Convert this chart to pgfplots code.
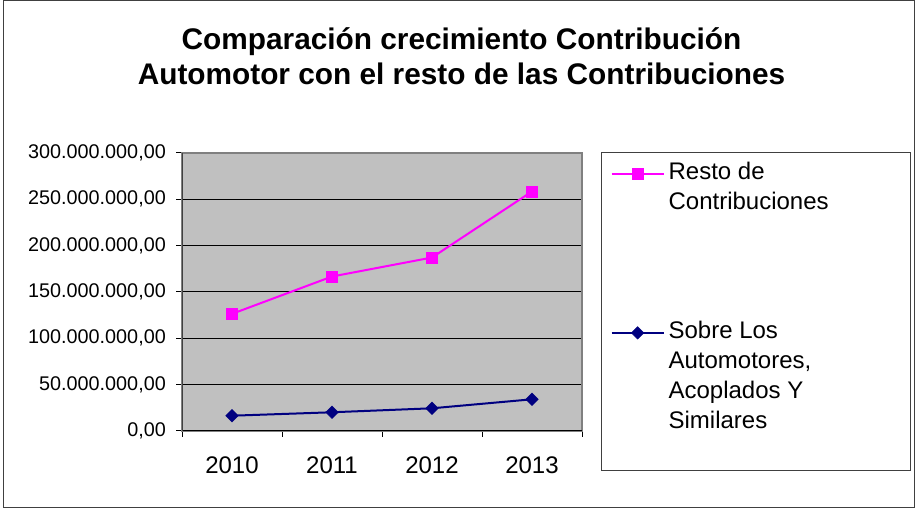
\documentclass[border=0pt]{standalone}
\usepackage{fontspec}
\setmainfont{Liberation Sans}
\usepackage{pgfplots}
\pgfplotsset{compat=1.18}
\definecolor{Plum}{HTML}{FF00FF}
\definecolor{Navy}{HTML}{000080}
\definecolor{PlotBg}{HTML}{C0C0C0}
\definecolor{Frame}{HTML}{808080}
\definecolor{Edge}{HTML}{404040}

\begin{document}
\begin{tikzpicture}[x=1bp,y=1bp]
\useasboundingbox (0,0) rectangle (915,508);
\draw[color=Edge, line width=1.2bp] (3.5,0.6) rectangle (914.4,507.4);
\node[font=\fontsize{29.8bp}{35bp}\selectfont\bfseries, anchor=base, inner sep=0pt]
  at (461.5,458) {Comparación crecimiento Contribución};
\node[font=\fontsize{29.8bp}{35bp}\selectfont\bfseries, anchor=base, inner sep=0pt]
  at (461.5,423) {Automotor con el resto de las Contribuciones};
\begin{axis}[
  at={(182bp,77bp)}, anchor=south west,
  scale only axis, width=400bp, height=278bp,
  axis background/.style={fill=PlotBg},
  xmin=-0.5, xmax=3.5, ymin=0, ymax=300,
  xtick={0,1,2,3}, xticklabels={2010,2011,2012,2013},
  minor xtick={-0.5,0.5,1.5,2.5,3.5},
  ytick={0,50,100,150,200,250,300},
  yticklabels={{0,00},{50.000.000,00},{100.000.000,00},{150.000.000,00},
    {200.000.000,00},{250.000.000,00},{300.000.000,00}},
  tick pos=left, tick align=outside,
  major tick length=6bp, minor tick length=6bp,
  major x tick style={draw=none},
  minor x tick style={black, line width=1bp},
  ytick style={black, line width=1bp},
  ymajorgrids, grid style={black, line width=1bp},
  axis line style={Frame, line width=1.5bp},
  yticklabel style={font=\fontsize{19.8bp}{22bp}\selectfont, inner sep=0pt, xshift=-10bp},
  xticklabel style={font=\fontsize{24bp}{28bp}\selectfont, inner sep=0pt, yshift=-20bp},
  legend style={at={(axis description cs:1,1)}, anchor=north west,
    xshift=19bp, yshift=1bp, draw=Edge, line width=1.2bp, fill=white,
    inner xsep=9bp, inner ysep=9.5bp,
    font=\fontsize{24bp}{30bp}\selectfont,
    row sep=19bp, column sep=4bp,
    cells={anchor=base west}, nodes={inner sep=0pt}},
  legend image code/.code={%
    \path[draw=none, fill=none] (0bp,0bp) -- (0bp,-128bp);
    \draw[mark repeat=2,mark phase=2,#1]
    plot coordinates {(0bp,0bp) (26bp,0bp) (52bp,0bp)};},
  legend image post style={yshift=5.5bp},
]
\addplot[color=Plum, line width=2bp, mark=square*, mark size=5.5bp,
  mark options={line width=0.5bp}]
  coordinates {(0,126.4) (1,166.7) (2,187.2) (3,258.5)};
\addlegendentry{\parbox[t]{233bp}{Resto de\\Contribuciones}}
\addplot[color=Navy, line width=2bp, mark=square*, mark size=4.4bp,
  mark options={rotate=45, line width=0.5bp}]
  coordinates {(0,16.5) (1,20.2) (2,24.5) (3,34.2)};
\addlegendentry{\parbox[t]{233bp}{Sobre Los\\Automotores,\\Acoplados Y\\Similares}}
\draw[black, line width=1.2bp] (rel axis cs:0,0) -- (rel axis cs:1,0);
\draw[Edge, line width=1.5bp] (rel axis cs:0,0) -- (rel axis cs:0,1);
\end{axis}
\end{tikzpicture}
\end{document}
